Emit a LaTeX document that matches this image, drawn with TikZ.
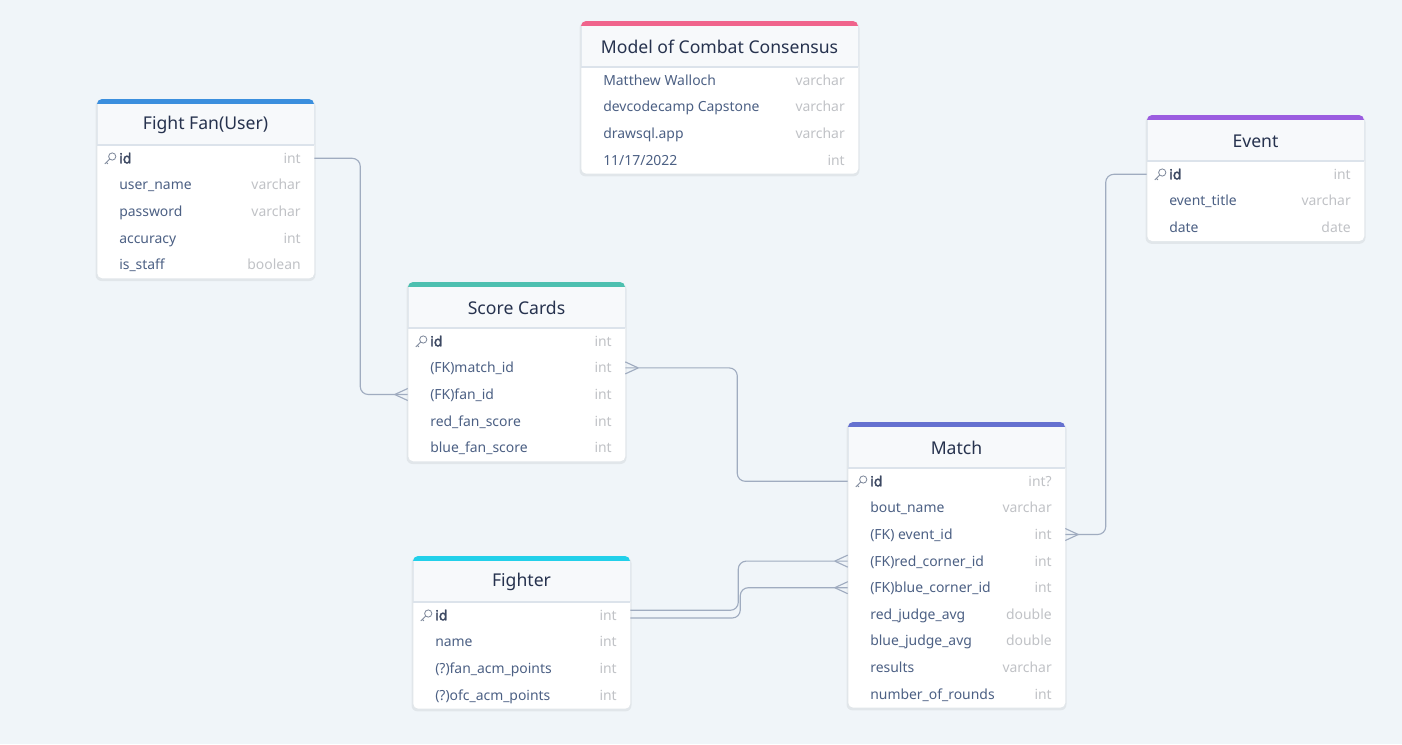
\documentclass[tikz,border=0pt]{standalone}
\usepackage{fontspec}
\setmainfont{Noto Sans}
\newfontfamily\erboldfont[FakeBold=2.2]{Noto Sans}
\usetikzlibrary{calc}
\definecolor{bg}{RGB}{240,245,249}
\definecolor{linec}{RGB}{160,172,192}
\definecolor{headc}{RGB}{247,249,251}
\definecolor{sepc}{RGB}{220,227,235}
\definecolor{borderc}{RGB}{226,232,238}
\definecolor{titlec}{RGB}{38,50,78}
\definecolor{fieldc}{RGB}{76,96,132}
\definecolor{idc}{RGB}{60,72,98}
\definecolor{typec}{RGB}{192,194,198}
\definecolor{keyc}{RGB}{130,140,158}
\definecolor{cff}{RGB}{59,143,222}
\definecolor{cmodel}{RGB}{240,100,140}
\definecolor{cevent}{RGB}{155,93,224}
\definecolor{cscore}{RGB}{77,192,176}
\definecolor{cmatch}{RGB}{101,113,208}
\definecolor{cfighter}{RGB}{34,208,234}
\newcommand\erid{\textcolor{idc}{\erboldfont id}}
\newcommand\erdate{11/17/2022}
\tikzset{
  tablebody/.style={rectangle, fill=white, rounded corners=3.75pt, inner sep=0pt},
  rowbox/.style={rectangle, inner sep=0pt, minimum height=19.95pt},
  titletxt/.style={font=\fontsize{13.2}{15}\selectfont, text=titlec, inner sep=0pt},
  fieldtxt/.style={font=\fontsize{10.45}{12}\selectfont, text=fieldc, inner sep=0pt},
  typetxt/.style={font=\fontsize{10.45}{12}\selectfont, text=typec, inner sep=0pt},
  conn/.style={draw=linec, line width=0.85pt, rounded corners=6pt},
  keyicon/.pic={\draw[keyc, line width=0.65pt] (15.5,-1.8) circle[radius=3.6] (12.9,0.8) -- (8,5.6) (9.6,4) -- (11.2,5.6);}
}
% #1 prefix, #2 L, #3 T, #4 W, #5 N rows, #6 colour, #7 title, #8 rows
\newcommand\ertable[8]{%
  \pgfmathsetmacro\erR{#2+#4}%
  \pgfmathsetmacro\erB{#3+46+26.6*#5}%
  \fill[black, opacity=0.06, rounded corners=4.5pt] (#2-1.5,#3+1) rectangle (\erR+1.5,\erB+3);
  \node[tablebody, minimum width=#4*0.75pt, minimum height={(46+26.6*#5)*0.75pt}, anchor=north west] (#1) at (#2,#3) {};
  \fill[#6, rounded corners=3.75pt] (#2,#3) rectangle (\erR,#3+12);
  \fill[headc] (#2,#3+5) rectangle (\erR,#3+46);
  \draw[borderc, line width=0.6pt] (#2,#3+5) -- (#2,#3+46) (\erR,#3+5) -- (\erR,#3+46);
  \draw[sepc, line width=0.9pt] (#2,#3+46) -- (\erR,#3+46);
  \node[titletxt] (#1-title) at (#2+#4/2, #3+26) {#7};
  \foreach \k/\n/\t [count=\i] in {#8} {
    \pgfmathsetmacro\ery{#3+59.3+26.6*(\i-1)}
    \node[rowbox, minimum width=#4*0.75pt] (#1-\k) at (#2+#4/2, \ery) {};
    \node[fieldtxt, anchor=base west] (#1-\k-n) at (#2+22, \ery+5) {\n};
    \node[typetxt, anchor=base east] (#1-\k-t) at (\erR-13, \ery+5) {\t};
  }
}
\newcommand\crowW[1]{\draw[conn, shift={(#1)}] (-13,0) -- (0,-6) (-13,0) -- (0,6);}
\newcommand\crowE[1]{\draw[conn, shift={(#1)}] (13,0) -- (0,-6) (13,0) -- (0,6);}
\begin{document}
\begin{tikzpicture}[x=0.75pt, y=-0.75pt]
  \fill[bg] (0,0) rectangle (1402,744);
  \useasboundingbox (0,0) rectangle (1402,744);

  \ertable{ff}{97}{99}{217}{5}{cff}{Fight Fan(User)}{id/\erid/int, user/user\_name/varchar, pw/password/varchar, acc/accuracy/int, staff/is\_staff/boolean}
  \ertable{mo}{581}{21}{277}{4}{cmodel}{Model of Combat Consensus}{r1/Matthew Walloch/varchar, r2/devcodecamp Capstone/varchar, r3/drawsql.app/varchar, r4/\erdate/int}
  \ertable{ev}{1147}{115}{217}{3}{cevent}{Event}{id/\erid/int, title/event\_title/varchar, date/date/date}
  \ertable{sc}{408}{282}{217}{5}{cscore}{Score Cards}{id/\erid/int, match/(FK)match\_id/int, fan/(FK)fan\_id/int, red/red\_fan\_score/int, blue/blue\_fan\_score/int}
  \ertable{m}{848}{422}{217}{9}{cmatch}{Match}{id/\erid/int?, bout/bout\_name/varchar, event/(FK) event\_id/int, red/(FK)red\_corner\_id/int, blue/(FK)blue\_corner\_id/int, rj/red\_judge\_avg/double, bj/blue\_judge\_avg/double, res/results/varchar, rounds/number\_of\_rounds/int}
  \ertable{f}{413}{556}{217}{4}{cfighter}{Fighter}{id/\erid/int, name/name/int, fan/(?)fan\_acm\_points/int, ofc/(?)ofc\_acm\_points/int}

  \pic at (ff-id.west) {keyicon};
  \pic at (ev-id.west) {keyicon};
  \pic at (sc-id.west) {keyicon};
  \pic at (m-id.west) {keyicon};
  \pic at (f-id.west) {keyicon};

  % connectors
  \draw[conn] (ff-id.east) -- ++(46,0) |- (sc-fan.west);
  \crowW{sc-fan.west}
  \draw[conn] (sc-match.east) -- ++(112,0) |- (m-id.west);
  \crowE{sc-match.east}
  \draw[conn] (ev-id.west) -- ++(-41,0) |- (m-event.east);
  \crowE{m-event.east}
  \draw[conn] ([yshift=3.75pt]f-id.east) -- ++(108,0) |- (m-red.west);
  \crowW{m-red.west}
  \draw[conn] ([yshift=-2pt]f-id.east) -- ++(110,0) |- (m-blue.west);
  \crowW{m-blue.west}
\end{tikzpicture}
\end{document}
